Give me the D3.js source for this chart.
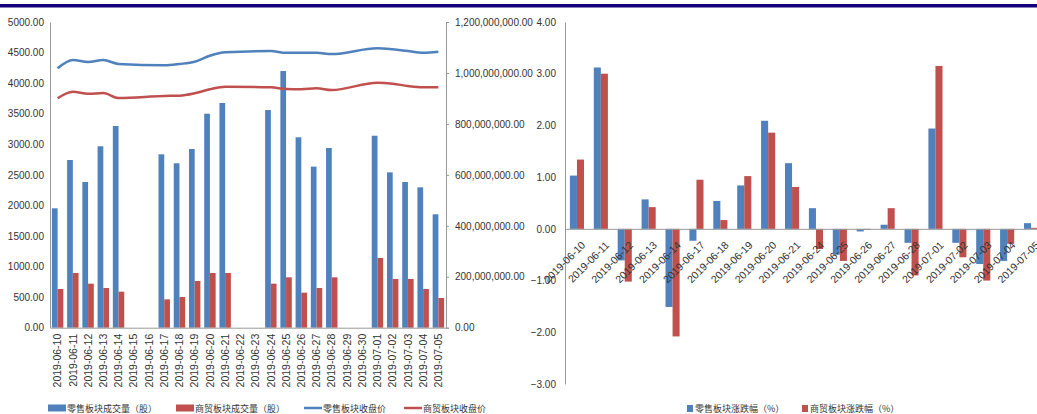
<!DOCTYPE html>
<html>
<head>
<meta charset="utf-8">
<script src="https://cdn.jsdelivr.net/npm/d3@7"></script>
<style>
  body { margin: 0; background: #fff; }
  svg text { fill: #333; }
  .num { font-family: "Liberation Sans Narrow", "Liberation Sans", sans-serif; font-size: 10px; }
  .cjk { font-family: "Noto Sans CJK SC", sans-serif; font-size: 9px; }
</style>
</head>
<body>
<svg id="chart" width="1037" height="414"></svg>
<script>
// left chart: daily volume (shares) and closing price, weekends left empty
const dates = ["2019-06-10","2019-06-11","2019-06-12","2019-06-13","2019-06-14","2019-06-15","2019-06-16",
  "2019-06-17","2019-06-18","2019-06-19","2019-06-20","2019-06-21","2019-06-22","2019-06-23",
  "2019-06-24","2019-06-25","2019-06-26","2019-06-27","2019-06-28","2019-06-29","2019-06-30",
  "2019-07-01","2019-07-02","2019-07-03","2019-07-04","2019-07-05"];
const retailVolume = [468700000,658300000,571900000,712100000,791800000,null,null,
  680600000,645400000,701500000,840000000,882000000,null,null,
  854400000,1007500000,747400000,632200000,705400000,null,null,
  753600000,609800000,571900000,551000000,445200000];
const tradeVolume = [151900000,214800000,172800000,155800000,141400000,null,null,
  111400000,120500000,183400000,214800000,214800000,null,null,
  172800000,197800000,137500000,155800000,197800000,null,null,
  273600000,191300000,191300000,151900000,116600000];
const retailClose = [4242,4378,4345,4378,4313,null,null,4291,4313,4350,4448,4504,null,null,
  4525,4497,4497,4497,4476,null,null,4570,4553,4525,4497,4514];
const tradeClose = [3752,3860,3827,3838,3757,null,null,3790,3795,3834,3899,3942,null,null,
  3932,3904,3899,3915,3888,null,null,4007,3991,3953,3932,3932];
const priceTicks = [0,500,1000,1500,2000,2500,3000,3500,4000,4500,5000];
const volumeTicks = [0,200000000,400000000,600000000,800000000,1000000000,1200000000];

// right chart: daily change (%) on trading days only
const tradeDays = ["2019-06-10","2019-06-11","2019-06-12","2019-06-13","2019-06-14","2019-06-17",
  "2019-06-18","2019-06-19","2019-06-20","2019-06-21","2019-06-24","2019-06-25","2019-06-26",
  "2019-06-27","2019-06-28","2019-07-01","2019-07-02","2019-07-03","2019-07-04","2019-07-05"];
const retailChange = [1.03,3.12,-0.61,0.57,-1.51,-0.23,0.54,0.84,2.09,1.27,
  0.40,-0.50,-0.05,0.08,-0.27,1.94,-0.27,-0.68,-0.62,0.11];
const tradeChange = [1.34,3.00,-1.02,0.42,-2.08,0.95,0.17,1.02,1.86,0.81,
  -0.39,-0.62,-0.02,0.40,-0.90,3.15,-0.55,-1.00,-0.29,0.02];
const changeTicks = [-3,-2,-1,0,1,2,3,4];

const BLUE = "#4F81BD", RED = "#C0504D", AXIS = "#999";
const svg = d3.select("#chart");

svg.append("rect").attr("x", 0).attr("y", 4).attr("width", 1037).attr("height", 3.5).attr("fill", "#13007A");

// ---------- left chart ----------
const L = { left: 50, right: 446, top: 22, bottom: 327.7 };

const x0 = d3.scaleBand().domain(dates).range([L.left, L.right]).paddingInner(0.25).paddingOuter(0.125);
const x1 = d3.scaleBand().domain(["retail","trade"]).range([0, x0.bandwidth()]);
const yPrice = d3.scaleLinear().domain([0, 5000]).range([L.bottom, L.top]);
const yVol = d3.scaleLinear().domain([0, 1200000000]).range([L.bottom, L.top]);

const volRows = dates.map((d, i) => ({ d, retail: retailVolume[i], trade: tradeVolume[i] }));
const gl = svg.append("g");

gl.selectAll("g.grp").data(volRows).enter().append("g")
  .attr("transform", r => `translate(${x0(r.d)},0)`)
  .selectAll("rect")
  .data(r => [{k:"retail", v:r.retail}, {k:"trade", v:r.trade}].filter(e => e.v != null))
  .enter().append("rect")
  .attr("x", e => x1(e.k))
  .attr("width", x1.bandwidth())
  .attr("y", e => yVol(e.v))
  .attr("height", e => yVol(0) - yVol(e.v))
  .attr("fill", e => e.k === "retail" ? BLUE : RED);

const line = d3.line()
  .defined(p => p.v != null)
  .x(p => x0(p.d) + x0.bandwidth() / 2)
  .y(p => yPrice(p.v))
  .curve(d3.curveMonotoneX);

[[retailClose, BLUE], [tradeClose, RED]].forEach(([vals, col]) => {
  const pts = dates.map((d, i) => ({ d, v: vals[i] })).filter(p => p.v != null);
  gl.append("path").datum(pts).attr("d", line)
    .attr("fill", "none").attr("stroke", col).attr("stroke-width", 2.5);
});

const axL = gl.append("g").attr("transform", `translate(${L.left},0)`)
  .call(d3.axisLeft(yPrice).tickValues(priceTicks).tickSize(0).tickPadding(6).tickFormat(d3.format(".2f")));
const axR = gl.append("g").attr("transform", `translate(${L.right},0)`)
  .call(d3.axisRight(yVol).tickValues(volumeTicks).tickSize(3).tickPadding(6).tickFormat(d3.format(",.2f")));
const axB = gl.append("g").attr("transform", `translate(0,${L.bottom})`)
  .call(d3.axisBottom(x0).tickSize(0).tickPadding(0));
axB.selectAll("text")
  .attr("transform", "rotate(-90)")
  .attr("text-anchor", "end")
  .attr("x", -6).attr("y", 0).attr("dy", "0.35em")
  .attr("font-family", "Liberation Sans, sans-serif").attr("font-size", "10.5px");

[axL, axR].forEach(a => a.selectAll("text").attr("class", "num").attr("font-family", null).attr("font-size", null));
[axL, axR, axB].forEach(a => {
  a.select(".domain").attr("stroke", AXIS);
  a.selectAll(".tick line").attr("stroke", AXIS);
});

// left legend
const legL = [
  { t: "零售板块成交量（股）", c: BLUE, kind: "rect", x: 48 },
  { t: "商贸板块成交量（股）", c: RED, kind: "rect", x: 176 },
  { t: "零售板块收盘价", c: BLUE, kind: "line", x: 304 },
  { t: "商贸板块收盘价", c: RED, kind: "line", x: 404 }
];
legL.forEach(e => {
  if (e.kind === "rect") {
    svg.append("rect").attr("x", e.x).attr("y", 404.5).attr("width", 18).attr("height", 7).attr("fill", e.c);
  } else {
    svg.append("line").attr("x1", e.x).attr("x2", e.x + 18).attr("y1", 408).attr("y2", 408)
      .attr("stroke", e.c).attr("stroke-width", 2.5);
  }
  svg.append("text").attr("class", "cjk").attr("x", e.x + 19).attr("y", 411.5).text(e.t);
});

// ---------- right chart ----------
const R = { left: 565, right: 1043, top: 22, bottom: 384 };
const xc = d3.scaleBand().domain(tradeDays).range([R.left, R.right]).paddingInner(0.41).paddingOuter(0.205);
const xc1 = d3.scaleBand().domain(["retail","trade"]).range([0, xc.bandwidth()]);
const yc = d3.scaleLinear().domain([-3, 4]).range([R.bottom, R.top]);
const gr = svg.append("g");

const chRows = tradeDays.map((d, i) => ({ d, retail: retailChange[i], trade: tradeChange[i] }));
gr.selectAll("g.grp").data(chRows).enter().append("g")
  .attr("transform", r => `translate(${xc(r.d)},0)`)
  .selectAll("rect")
  .data(r => [{k:"retail", v:r.retail}, {k:"trade", v:r.trade}])
  .enter().append("rect")
  .attr("x", e => xc1(e.k))
  .attr("width", xc1.bandwidth())
  .attr("y", e => yc(Math.max(0, e.v)))
  .attr("height", e => Math.abs(yc(e.v) - yc(0)))
  .attr("fill", e => e.k === "retail" ? BLUE : RED);

const axC = gr.append("g").attr("transform", `translate(${R.left},0)`)
  .call(d3.axisLeft(yc).tickValues(changeTicks).tickSize(0).tickPadding(9).tickFormat(d3.format(".2f")));
axC.selectAll("text").attr("class", "num").attr("font-family", null).attr("font-size", null);
axC.select(".domain").attr("stroke", AXIS);

const axC0 = gr.append("g").attr("transform", `translate(0,${yc(0)})`)
  .call(d3.axisBottom(xc).tickSize(0).tickPadding(0));
axC0.select(".domain").attr("stroke", AXIS);
axC0.selectAll("text")
  .attr("text-anchor", "end")
  .attr("transform", d => `translate(${xc.bandwidth() / 2 + 2},17) rotate(-45)`)
  .attr("x", 0).attr("y", 0).attr("dy", 0)
  .attr("font-family", "Liberation Sans, sans-serif").attr("font-size", "10.5px");

// right legend
[{ t: "零售板块涨跌幅（%）", c: BLUE, x: 687 }, { t: "商贸板块涨跌幅（%）", c: RED, x: 802 }].forEach(e => {
  svg.append("rect").attr("x", e.x).attr("y", 405).attr("width", 6).attr("height", 7).attr("fill", e.c);
  svg.append("text").attr("class", "cjk").attr("x", e.x + 8).attr("y", 411.5).text(e.t);
});
</script>
</body>
</html>
